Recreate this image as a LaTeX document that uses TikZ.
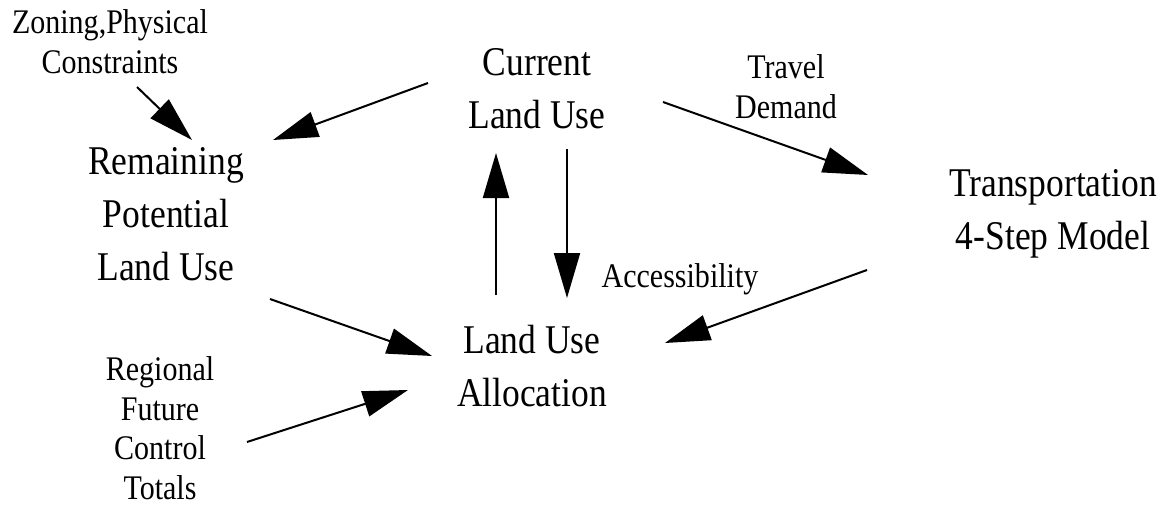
\documentclass[tikz,border=0pt]{standalone}
\usepackage{fontspec}
\setmainfont{Liberation Serif}[FakeStretch=0.87]
\usetikzlibrary{arrows.meta}

\begin{document}
\begin{tikzpicture}[x=1pt,y=-1pt,
    big/.style={align=center,inner sep=0pt,anchor=base,font=\fontsize{40.8}{53}\selectfont},
    small/.style={align=center,inner sep=0pt,anchor=base,font=\fontsize{34.5}{39.5}\selectfont},
    flow/.style={-{Triangle[length=45pt,width=26pt]},line width=2pt}]
    \useasboundingbox (0,0) rectangle (1165,506);
    % blocks
    \node[small] (zon) at (110,73) {Zoning,Physical\\Constraints};
    \node[big] (cur) at (537,128) {Current\\Land Use};
    \node[small] (trv) at (786,118) {Travel\\Demand};
    \node[big] (rem) at (166,280) {Remaining\\Potential\\Land Use};
    \node[big] (trn) at (1053,249) {Transportation\\4-Step Model};
    \node[small] (acc) at (680,287) {Accessibility};
    \node[big] (alo) at (532,406) {Land Use\\Allocation};
    \node[small] (reg) at (160,499) {Regional\\Future\\Control\\Totals};
    % arrows
    \draw[flow] ([shift={(27,14)}]zon.base) -- ([shift={(26,-140)}]rem.base);
    \draw[flow] ([shift={(-109,-45)}]cur.base) -- ([shift={(107,-140)}]rem.base);
    \draw[flow] ([shift={(126,-26)}]cur.base) -- ([shift={(-185,-74)}]trn.base);
    \draw[flow] ([shift={(-36,-111)}]alo.base) -- ([shift={(-41,25)}]cur.base);
    \draw[flow] ([shift={(30,21)}]cur.base) -- ([shift={(35,-108)}]alo.base);
    \draw[flow] ([shift={(-186,21)}]trn.base) -- ([shift={(133,-63)}]alo.base);
    \draw[flow] ([shift={(104,19)}]rem.base) -- ([shift={(-100,-50)}]alo.base);
    \draw[flow] ([shift={(87,-57)}]reg.base) -- ([shift={(-124,-16)}]alo.base);
\end{tikzpicture}
\end{document}
